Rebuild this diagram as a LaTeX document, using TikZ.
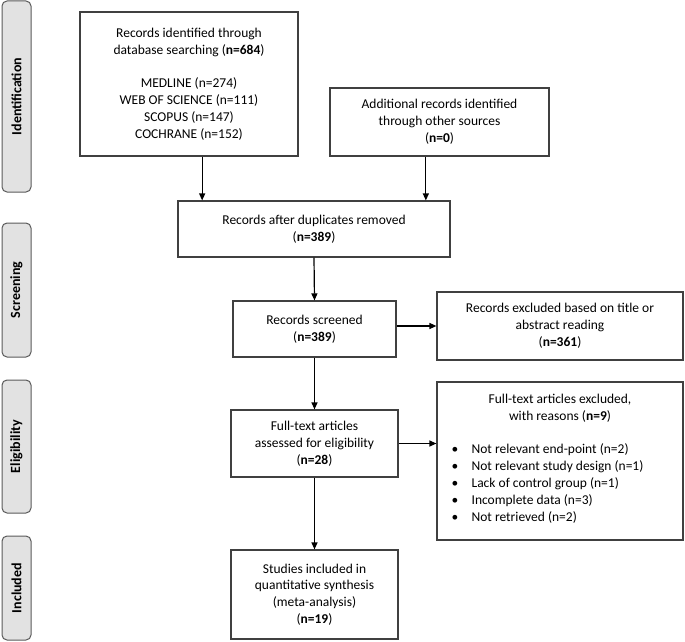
\documentclass[tikz,border=0pt]{standalone}
\usepackage{fontspec}
\setmainfont{Carlito}
\usetikzlibrary{arrows.meta,calc}
\definecolor{edge}{HTML}{404040}
\definecolor{phasefill}{HTML}{E2E2E2}
\definecolor{phaseedge}{HTML}{5A5A5A}
\begin{document}
\begin{tikzpicture}[x=1pt,y=-1pt,
  box/.style={draw=edge, line width=1.2pt, fill=white, inner sep=0pt, align=center, font=\fontsize{13.5}{16.8}\selectfont},
  txt/.style={inner sep=0pt, font=\fontsize{13.5}{16.8}\selectfont},
  phase/.style={draw=phaseedge, line width=1pt, fill=phasefill, rounded corners=5pt, rotate=90, inner sep=0pt, minimum height=29pt, font=\bfseries\fontsize{14}{16}\selectfont},
  arr/.style={-{Triangle[length=7pt,width=6pt]}, line width=1.2pt, draw=black}]
\useasboundingbox (0,0) rectangle (685,642);
% phase labels
\node[phase, minimum width=191pt] (p1) at (16.5,96.5) {Identification};
\node[phase, minimum width=134pt] (p2) at (16.5,290) {Screening};
\node[phase, minimum width=133pt] (p3) at (16.5,446.5) {Eligibility};
\node[phase, minimum width=104pt] (p4) at (16.5,588) {Included};
% boxes
\node[box, minimum width=218pt, minimum height=144pt] (A) at (189,84)
  {Records identified through\\database searching (\textbf{n=684})\\[16.8pt]MEDLINE (n=274)\\WEB OF SCIENCE (n=111)\\SCOPUS (n=147)\\COCHRANE (n=152)};
\node[box, minimum width=219pt, minimum height=68pt] (B) at (439.5,122)
  {Additional records identified\\through other sources\\(\textbf{n=0})};
\node[box, minimum width=272pt, minimum height=56pt] (C) at (314,229)
  {Records after duplicates removed\\(\textbf{n=389})};
\node[box, minimum width=163pt, minimum height=56pt] (D) at (314.5,329)
  {Records screened\\(\textbf{n=389})};
\node[box, minimum width=246pt, minimum height=68pt] (E) at (560,326)
  {Records excluded based on title or\\abstract reading\\(\textbf{n=361})};
\node[box, minimum width=167pt, minimum height=67pt] (F) at (314.5,443.5)
  {Full-text articles\\assessed for eligibility\\(\textbf{n=28})};
\node[box, minimum width=246pt, minimum height=158pt] (G) at (560,461) {};
\node[txt, align=center] (Gh) at ($(G.north)+(0,26.5)$)
  {Full-text articles excluded,\\with reasons (\textbf{n=9})};
\node[txt, align=left, anchor=west] (Gl) at ($(G.north west)+(15,102)$)
  {\makebox[20pt][l]{•}Not relevant end-point (n=2)\\
   \makebox[20pt][l]{•}Not relevant study design (n=1)\\
   \makebox[20pt][l]{•}Lack of control group (n=1)\\
   \makebox[20pt][l]{•}Incomplete data (n=3)\\
   \makebox[20pt][l]{•}Not retrieved (n=2)};
\node[box, minimum width=167pt, minimum height=89pt] (H) at (314.5,594.5)
  {Studies included in\\quantitative synthesis\\(meta-analysis)\\(\textbf{n=19})};
% connectors
\coordinate (a1) at ($(A.south west)!0.56!(A.south east)$);
\coordinate (b1) at ($(B.south west)!0.438!(B.south east)$);
\draw[arr] (a1) -- (a1 |- C.north);
\draw[arr] (b1) -- (b1 |- C.north);
\draw[arr] (C.south) -- (D.north);
\draw[arr] (E.west -| D.east) -- (E.west);
\draw[arr] (D.south) -- (F.north);
\draw[arr] (F.east) -- (F.east -| G.west);
\draw[arr] (F.south) -- (H.north);
\end{tikzpicture}
\end{document}
